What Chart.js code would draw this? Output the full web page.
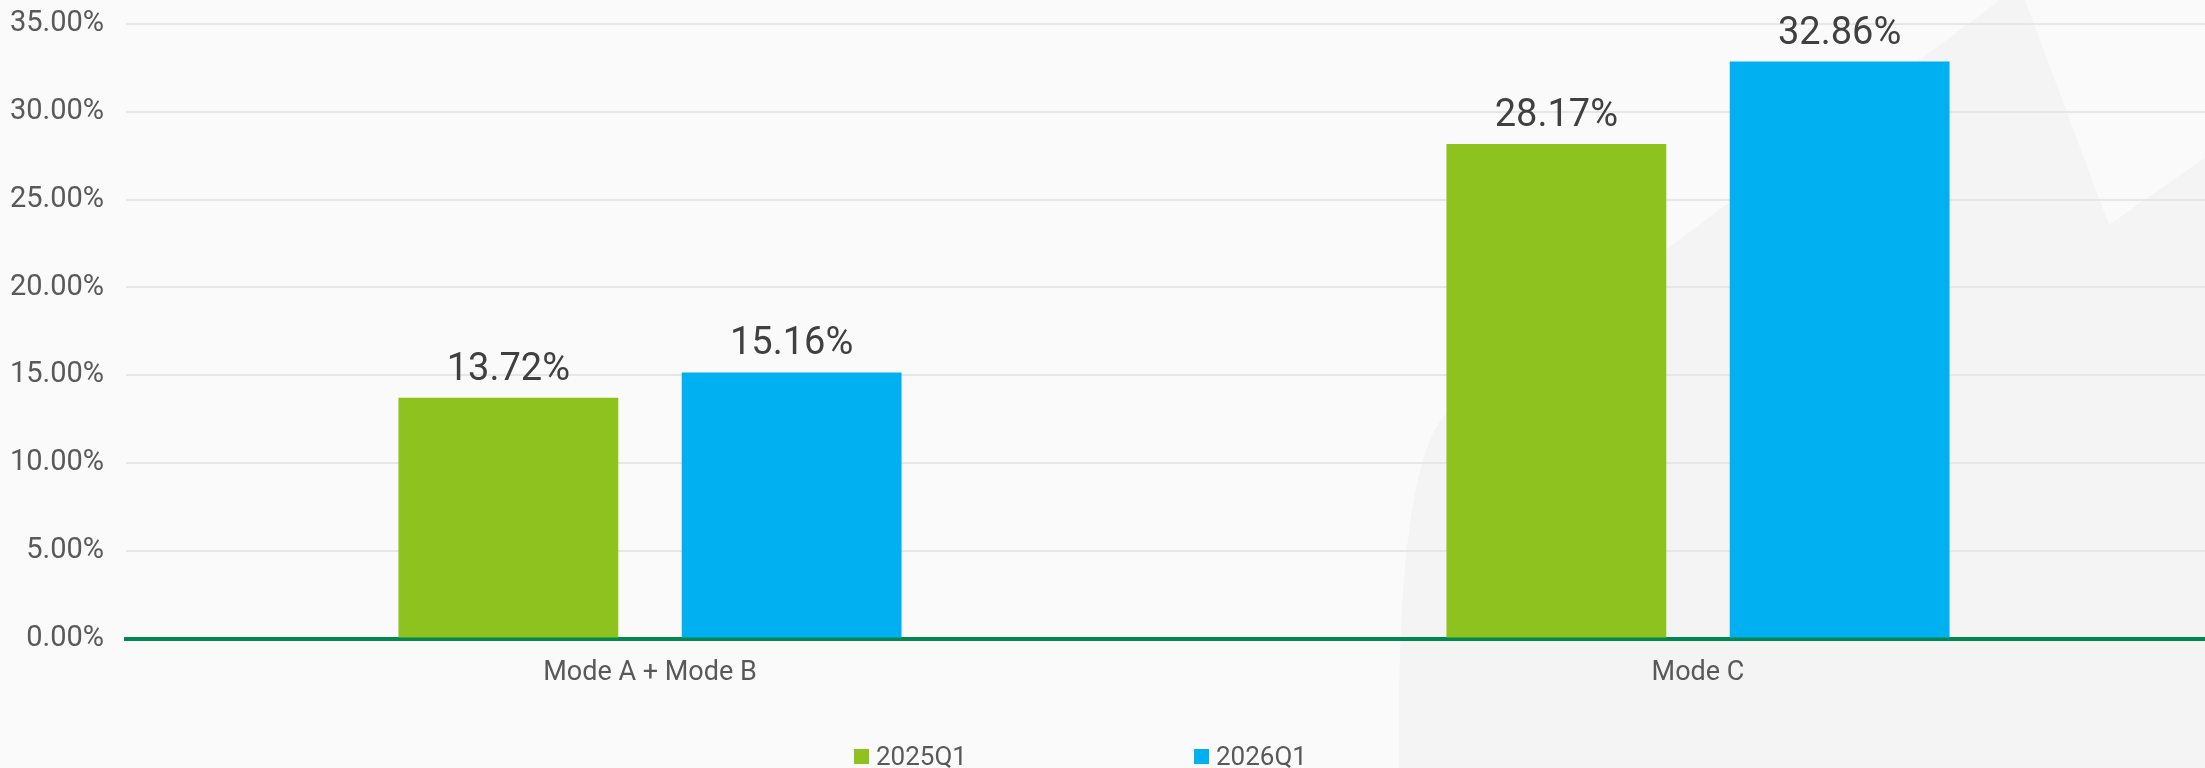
<!DOCTYPE html>
<html>
<head>
<meta charset="utf-8">
<script src="https://cdn.jsdelivr.net/npm/chart.js@4.4.0/dist/chart.umd.min.js"></script>
<style>
  html, body { margin: 0; padding: 0; background: #fafafa; overflow: hidden; }
  #wrap { position: relative; width: 2230px; height: 768px; }
  #legend { position: absolute; left: 0; top: 741px; font-family: Roboto, sans-serif; font-size: 26px; color: #595959; }
  .item { position: absolute; top: 0; height: 30px; white-space: nowrap; }
  .item .box { position: absolute; left: 0; top: 8px; width: 15px; height: 15px; }
  .item .txt { position: absolute; left: 22px; top: 0; line-height: 30px; }
</style>
</head>
<body>
<div id="wrap">
  <canvas id="myChart"></canvas>
  <div id="legend"></div>
</div>
<script>
// data
const categories = ['Mode A + Mode B', 'Mode C'];
const seriesNames = ['2025Q1', '2026Q1'];
const values2025 = [13.72, 28.17];
const values2026 = [15.16, 32.86];
const seriesColors = ['#8dc21f', '#00b0f0'];
const yMin = 0, yMax = 35, yStep = 5;

// faint background shape on the right
const watermark = {
  id: 'watermark',
  beforeDraw(chart) {
    const ctx = chart.ctx;
    ctx.save();
    ctx.fillStyle = '#f4f4f4';
    ctx.beginPath();
    ctx.moveTo(1399, 768);
    ctx.quadraticCurveTo(1396, 470, 1445, 415);
    ctx.lineTo(2000, 0);
    ctx.lineTo(2025, 0);
    ctx.lineTo(2109, 225);
    ctx.lineTo(2230, 140);
    ctx.lineTo(2230, 768);
    ctx.closePath();
    ctx.fill();
    ctx.restore();
  }
};

// value labels above bars
const valueLabels = {
  id: 'valueLabels',
  afterDatasetsDraw(chart) {
    const ctx = chart.ctx;
    ctx.save();
    ctx.font = '38px Roboto';
    ctx.fillStyle = '#404040';
    ctx.textAlign = 'center';
    ctx.textBaseline = 'alphabetic';
    chart.data.datasets.forEach((ds, i) => {
      chart.getDatasetMeta(i).data.forEach((bar, j) => {
        ctx.fillText(ds.data[j].toFixed(2) + '%', bar.x, bar.y - 18);
      });
    });
    ctx.restore();
  }
};

const ctx = document.getElementById('myChart').getContext('2d');
const chart = new Chart(ctx, {
  type: 'bar',
  data: {
    labels: categories,
    datasets: [
      { label: seriesNames[0], data: values2025, backgroundColor: seriesColors[0] },
      { label: seriesNames[1], data: values2026, backgroundColor: seriesColors[1] }
    ]
  },
  options: {
    responsive: true,
    maintainAspectRatio: false,
    animation: false,
    categoryPercentage: 0.5406,
    barPercentage: 0.776,
    layout: { padding: { left: 0, top: 24, right: 8, bottom: 61 } },
    plugins: {
      legend: { display: false },
      tooltip: { enabled: false }
    },
    scales: {
      x: {
        z: 1,
        grid: { display: false, drawTicks: false },
        border: { display: true, color: '#00894f', width: 4 },
        ticks: { font: { family: 'Roboto', size: 27 }, color: '#595959', padding: 18 }
      },
      y: {
        min: yMin,
        max: yMax,
        afterFit: scale => {
          scale.width = 126;
          scale.paddingTop = 0;
          scale.paddingBottom = 0;
        },
        grid: {
          color: c => c.tick.value === 0 ? 'rgba(0,0,0,0)' : '#e6e6e6',
          lineWidth: 2,
          drawTicks: false
        },
        border: { display: false },
        ticks: {
          stepSize: yStep,
          padding: 22,
          font: { family: 'Roboto', size: 29 },
          color: '#595959',
          callback: v => v.toFixed(2) + '%'
        }
      }
    }
  },
  plugins: [watermark, valueLabels]
});

// html legend built from the series arrays
const legendLeft = [854, 1194];
const legend = document.getElementById('legend');
seriesNames.forEach((name, i) => {
  const item = document.createElement('div');
  item.className = 'item';
  item.style.left = legendLeft[i] + 'px';
  item.innerHTML = '<span class="box" style="background:' + seriesColors[i] + '"></span><span class="txt">' + name + '</span>';
  legend.appendChild(item);
});
</script>
</body>
</html>
